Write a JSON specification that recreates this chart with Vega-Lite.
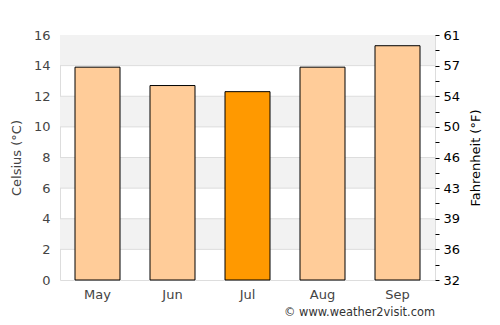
{
  "$schema": "https://vega.github.io/schema/vega-lite/v6.json",
  "autosize": "none",
  "width": 375,
  "height": 245,
  "padding": {"left": 60, "top": 35, "right": 65, "bottom": 45},
  "background": "white",
  "config": {
    "font": "DejaVu Sans",
    "view": {"stroke": "#dddddd", "strokeWidth": 1}
  },
  "title": {
    "text": "© www.weather2visit.com",
    "orient": "bottom",
    "anchor": "end",
    "frame": "group",
    "fontSize": 11.4,
    "fontWeight": "normal",
    "color": "#333333",
    "offset": 6
  },
  "layer": [
    {
      "data": {"values": [
        {"lo": 2, "hi": 4}, {"lo": 6, "hi": 8}, {"lo": 10, "hi": 12}, {"lo": 14, "hi": 16}
      ]},
      "mark": {"type": "rect", "color": "#f2f2f2"},
      "encoding": {
        "x": {"value": 0},
        "x2": {"value": "width"},
        "y": {"field": "lo", "type": "quantitative", "scale": {"domain": [0, 16], "nice": false}, "axis": null},
        "y2": {"field": "hi"}
      }
    },
    {
      "data": {"values": [
        {"g": 2}, {"g": 4}, {"g": 6}, {"g": 8}, {"g": 10}, {"g": 12}, {"g": 14}
      ]},
      "mark": {"type": "rule", "color": "#dddddd", "strokeWidth": 1},
      "encoding": {
        "y": {"field": "g", "type": "quantitative", "scale": {"domain": [0, 16], "nice": false}, "axis": null}
      }
    },
    {
      "data": {"values": [
        {"month": "May", "c": 13.9, "hl": "n"},
        {"month": "Jun", "c": 12.7, "hl": "n"},
        {"month": "Jul", "c": 12.3, "hl": "y"},
        {"month": "Aug", "c": 13.9, "hl": "n"},
        {"month": "Sep", "c": 15.3, "hl": "n"}
      ]},
      "mark": {"type": "bar", "stroke": "black", "strokeWidth": 1},
      "encoding": {
        "x": {
          "field": "month", "type": "nominal", "sort": null,
          "scale": {"paddingInner": 0.4, "paddingOuter": 0.2},
          "axis": {"title": null, "labelAngle": 0, "ticks": false, "domain": false, "labelPadding": 8, "labelFontSize": 13, "labelColor": "#444444"}
        },
        "y": {
          "field": "c", "type": "quantitative",
          "scale": {"domain": [0, 16], "nice": false},
          "axis": {
            "orient": "left", "values": [0, 2, 4, 6, 8, 10, 12, 14, 16],
            "grid": false, "ticks": false, "domain": false,
            "labelPadding": 10, "labelFontSize": 13, "labelColor": "#444444",
            "title": "Celsius (°C)", "titleFontSize": 13, "titleFontWeight": "normal", "titleColor": "#444444", "titlePadding": 10
          }
        },
        "color": {
          "field": "hl", "type": "nominal",
          "scale": {"domain": ["n", "y"], "range": ["#ffcc99", "#ff9900"]},
          "legend": null
        }
      }
    },
    {
      "data": {"values": [{"c": 0}, {"c": 16}]},
      "mark": {"type": "point", "opacity": 0},
      "encoding": {
        "y": {
          "field": "c", "type": "quantitative",
          "scale": {"domain": [0, 16], "nice": false},
          "axis": {
            "orient": "right",
            "values": [0, 1, 2, 3, 4, 5, 6, 7, 8, 9, 10, 11, 12, 13, 14, 15, 16],
            "labelExpr": "datum.value % 2 === 0 ? format(round(datum.value * 9 / 5 + 32), 'd') : ''",
            "grid": false, "domain": false,
            "ticks": true, "tickSize": 4, "tickColor": "#000000",
            "labelPadding": 4, "labelFontSize": 13, "labelColor": "#000000",
            "labelOverlap": false,
            "title": "Fahrenheit (°F)", "titleAngle": 270, "titleBaseline": "top", "titleFontSize": 13, "titleFontWeight": "normal", "titleColor": "#000000", "titlePadding": 10
          }
        }
      }
    }
  ],
  "resolve": {"scale": {"y": "independent"}, "axis": {"y": "independent"}}
}
